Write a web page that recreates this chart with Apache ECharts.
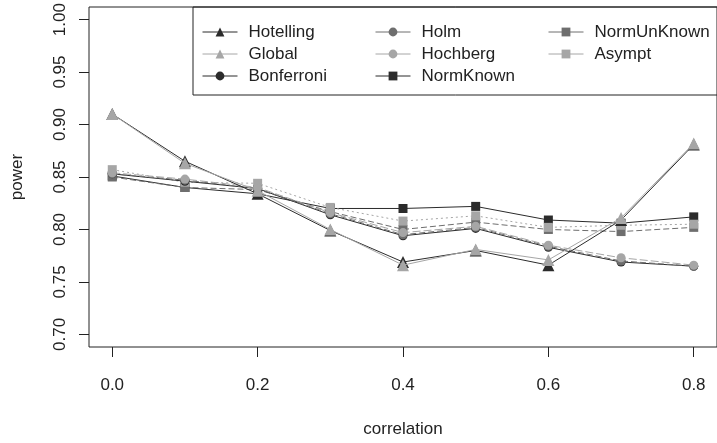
<!DOCTYPE html>
<html>
<head>
<meta charset="utf-8">
<script src="https://cdn.jsdelivr.net/npm/echarts@6/dist/echarts.min.js"></script>
<style>
  html, body { margin: 0; padding: 0; background: #fff; }
  #chart { width: 717px; height: 443px; }
</style>
</head>
<body>
<div id="chart"></div>
<script>
// Power of each multiple-testing procedure against the correlation
const correlation = [0.0, 0.1, 0.2, 0.3, 0.4, 0.5, 0.6, 0.7, 0.8];

const hotelling   = [0.910, 0.865, 0.834, 0.799, 0.769, 0.780, 0.766, 0.809, 0.881];
const globalTest  = [0.910, 0.863, 0.837, 0.800, 0.766, 0.781, 0.771, 0.811, 0.882];
const bonferroni  = [0.853, 0.846, 0.839, 0.814, 0.794, 0.801, 0.783, 0.769, 0.765];
const holm        = [0.853, 0.847, 0.839, 0.815, 0.795, 0.802, 0.784, 0.770, 0.765];
const hochberg    = [0.854, 0.848, 0.840, 0.816, 0.797, 0.803, 0.785, 0.773, 0.766];
const normKnown   = [0.851, 0.840, 0.834, 0.820, 0.820, 0.822, 0.809, 0.806, 0.812];
const normUnKnown = [0.850, 0.840, 0.838, 0.817, 0.800, 0.807, 0.800, 0.798, 0.802];
const asympt      = [0.857, 0.845, 0.844, 0.821, 0.808, 0.813, 0.802, 0.804, 0.805];

const xTicks = [0.0, 0.2, 0.4, 0.6, 0.8];
const yTicks = [0.70, 0.75, 0.80, 0.85, 0.90, 0.95, 1.00];

const DARK = '#2b2b2b', MID = '#6e6e6e', LIGHT = '#a6a6a6';
const FONT = 'Liberation Sans, Arial, sans-serif';

function pairs(values) {
  return correlation.map((c, i) => [c, values[i]]);
}

function line(name, values, color, symbol, size, dash, z) {
  return {
    name: name,
    type: 'line',
    data: pairs(values),
    symbol: symbol,
    symbolSize: size,
    z: z,
    itemStyle: { color: color },
    lineStyle: { color: color, width: 1, type: dash },
    emphasis: { disabled: true },
    animation: false
  };
}

const series = [
  line('NormKnown',   normKnown,   DARK,  'rect',     9,  'solid',  2),
  line('NormUnKnown', normUnKnown, MID,   'rect',     9,  [6, 3],   2),
  line('Asympt',      asympt,      LIGHT, 'rect',     9,  [2, 3],   2),
  line('Bonferroni',  bonferroni,  DARK,  'circle',   9,  'solid',  3),
  line('Holm',        holm,        MID,   'circle',   9,  [6, 3],   3),
  line('Hochberg',    hochberg,    LIGHT, 'circle',   9,  [8, 3],   3),
  line('Hotelling',   hotelling,   DARK,  'triangle', 12, 'solid',  4),
  line('Global',      globalTest,  LIGHT, 'triangle', 12, 'solid',  5)
];

function legendColumn(left, names) {
  return {
    orient: 'vertical',
    left: left,
    top: 16,
    itemWidth: 35,
    itemHeight: 11,
    itemGap: 0,
    selectedMode: false,
    lineStyle: { type: 'solid', width: 1 },
    textStyle: { fontFamily: FONT, fontSize: 17, color: '#222', lineHeight: 22, padding: [0, 0, 0, 6] },
    data: names
  };
}

const chart = echarts.init(document.getElementById('chart'), null, { renderer: 'canvas' });
chart.setOption({
  backgroundColor: '#fff',
  animation: false,
  textStyle: { fontFamily: FONT },
  grid: { left: 89, top: 7, width: 631, height: 345, show: true, borderColor: '#222', borderWidth: 1, backgroundColor: 'transparent' },
  xAxis: {
    type: 'value',
    min: -0.032,
    max: 0.832,
    name: 'correlation',
    nameLocation: 'middle',
    nameGap: 74,
    nameTextStyle: { fontFamily: FONT, fontSize: 17, color: '#222' },
    axisLine: { show: false, onZero: false },
    splitLine: { show: false },
    axisTick: { show: true, length: 10, customValues: xTicks, lineStyle: { color: '#222' } },
    axisLabel: { customValues: xTicks, margin: 30, fontSize: 17, color: '#222', fontFamily: FONT,
                 formatter: v => v.toFixed(1) }
  },
  yAxis: {
    type: 'value',
    min: 0.688,
    max: 1.012,
    name: 'power',
    nameLocation: 'middle',
    nameRotate: 90,
    nameGap: 63,
    nameTextStyle: { fontFamily: FONT, fontSize: 17, color: '#222' },
    axisLine: { show: false, onZero: false },
    splitLine: { show: false },
    axisTick: { show: true, length: 10, customValues: yTicks, lineStyle: { color: '#222' } },
    axisLabel: { customValues: yTicks, rotate: 90, margin: 20, fontSize: 17, color: '#222', fontFamily: FONT,
                 formatter: v => v.toFixed(2) }
  },
  legend: [
    legendColumn(197, ['Hotelling', 'Global', 'Bonferroni']),
    legendColumn(370, ['Holm', 'Hochberg', 'NormKnown']),
    legendColumn(543, ['NormUnKnown', 'Asympt'])
  ],
  graphic: [{
    type: 'rect',
    z: -1,
    shape: { x: 193, y: 7, width: 530, height: 88 },
    style: { fill: '#fff', stroke: '#222', lineWidth: 1 }
  }],
  series: series
});
</script>
</body>
</html>
